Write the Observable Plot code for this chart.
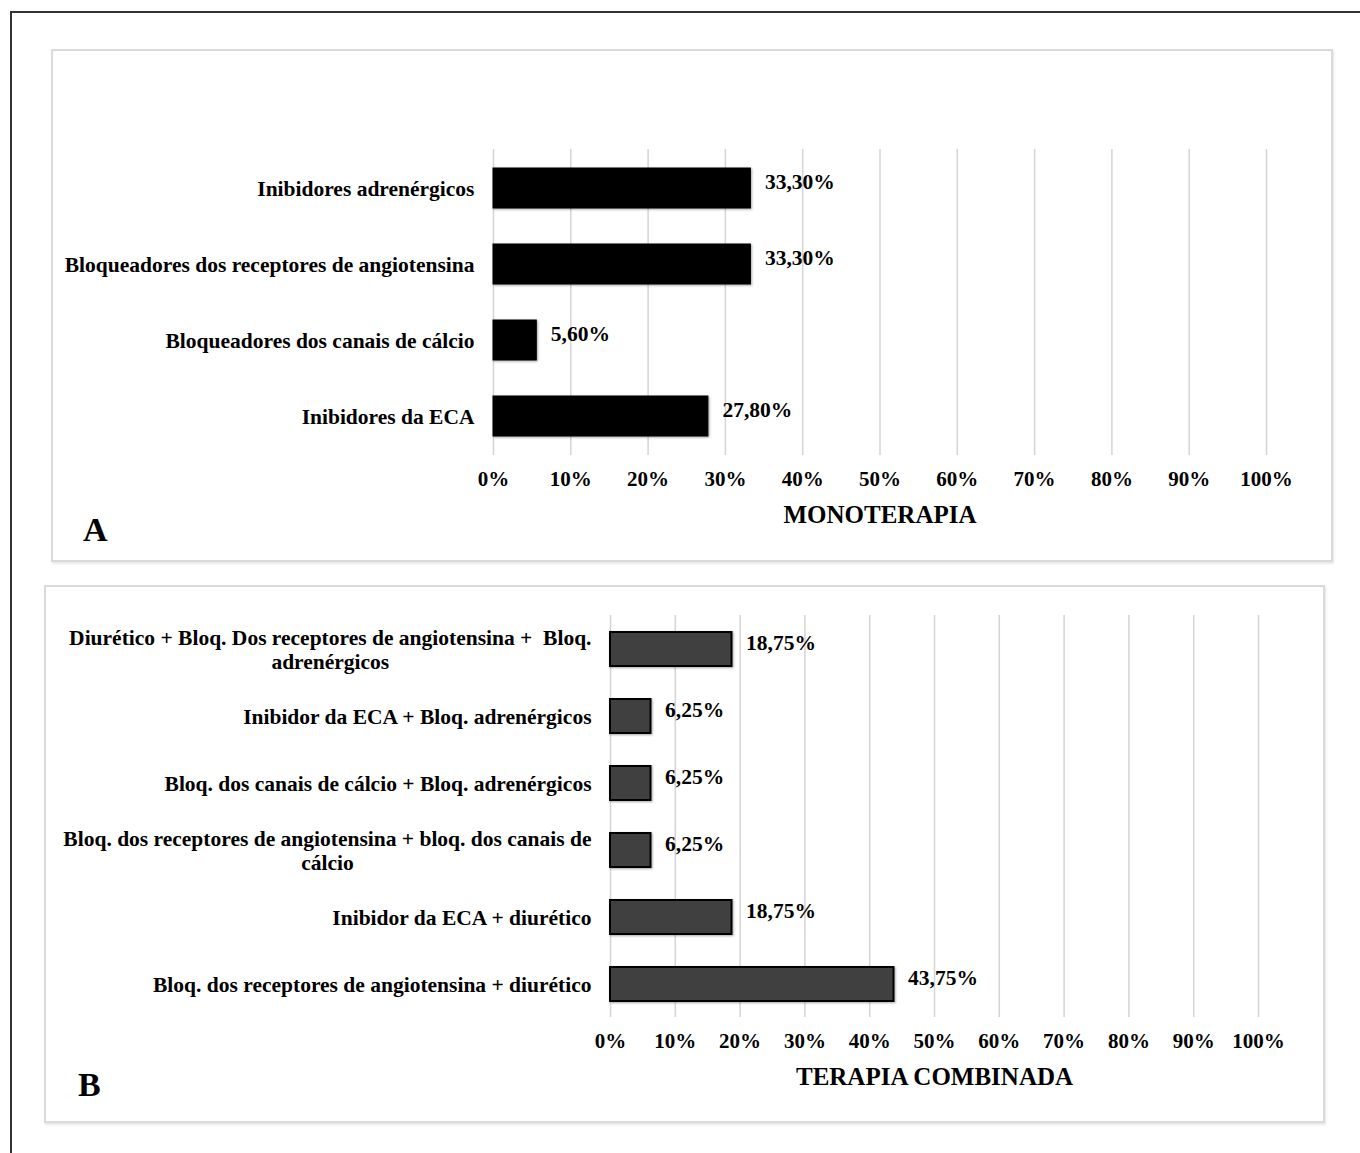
<!DOCTYPE html>
<html><head><meta charset="utf-8">
<script src="https://cdn.jsdelivr.net/npm/d3@7"></script>
<script src="https://cdn.jsdelivr.net/npm/@observablehq/plot@0.6"></script>
<style>
html,body{margin:0;padding:0;background:#fff;}
body{width:1360px;height:1153px;position:relative;overflow:hidden;font-family:"Liberation Serif",serif;}
.frame{position:absolute;left:10px;top:11px;width:1400px;height:1200px;border-left:2px solid #333;border-top:2px solid #333;}
.panel{position:absolute;box-sizing:border-box;border:2px solid #dadada;box-shadow:1px 2px 2px #e8e8e8;}
.chart{position:absolute;}
.letter{position:absolute;font-weight:bold;font-size:34px;color:#000;line-height:normal;}
g[aria-label="bar"] rect{filter:drop-shadow(1px 1px 1px rgba(0,0,0,0.35));}
</style></head><body>
<div class="frame"></div>
<div class="panel" style="left:51px;top:49px;width:1282px;height:513px"></div>
<div class="panel" style="left:44px;top:585px;width:1281px;height:538px"></div>
<div class="chart" id="chartA" style="left:51px;top:49px;width:1282px;height:513px"></div>
<div class="chart" id="chartB" style="left:44px;top:585px;width:1281px;height:538px"></div>
<div class="letter" style="left:83px;top:511px">A</div>
<div class="letter" style="left:78px;top:1066px">B</div>
<script>
// ---- Data ----
const monoCategories = [
  "Inibidores adrenérgicos",
  "Bloqueadores dos receptores de angiotensina",
  "Bloqueadores dos canais de cálcio",
  "Inibidores da ECA"
];
const monoValues = [0.333, 0.333, 0.056, 0.278];
const monoTitle = "MONOTERAPIA";

const comboCategories = [
  "Diurético + Bloq. Dos receptores de angiotensina +  Bloq.\nadrenérgicos",
  "Inibidor da ECA + Bloq. adrenérgicos",
  "Bloq. dos canais de cálcio + Bloq. adrenérgicos",
  "Bloq. dos receptores de angiotensina + bloq. dos canais de\ncálcio",
  "Inibidor da ECA + diurético",
  "Bloq. dos receptores de angiotensina + diurético"
];
const comboValues = [0.1875, 0.0625, 0.0625, 0.0625, 0.1875, 0.4375];
const comboTitle = "TERAPIA COMBINADA";

const xTicks = [0, 0.1, 0.2, 0.3, 0.4, 0.5, 0.6, 0.7, 0.8, 0.9, 1.0];
const xTickLabels = ["0%", "10%", "20%", "30%", "40%", "50%", "60%", "70%", "80%", "90%", "100%"];

const fmtPct = v => (v * 100).toFixed(2).replace(".", ",") + "%";

function makeChart(cats, vals, title, opts) {
  const data = cats.map((c, i) => ({category: c, value: vals[i]}));
  return Plot.plot({
    width: opts.width,
    height: opts.height,
    marginLeft: opts.marginLeft,
    marginRight: opts.marginRight,
    marginTop: opts.marginTop,
    marginBottom: opts.marginBottom,
    style: {fontFamily: "'Liberation Serif', serif", fontSize: "21px", fontWeight: "bold", color: "#000", background: "transparent", overflow: "visible"},
    x: {domain: [0, 1]},
    y: {domain: cats, paddingInner: opts.paddingInner, paddingOuter: opts.paddingInner / 2},
    marks: [
      Plot.gridX(xTicks, {stroke: "#d4d4d4", strokeOpacity: 1, strokeWidth: 1.5}),
      Plot.barX(data, {x: "value", y: "category", fill: opts.fill, stroke: opts.stroke, strokeWidth: opts.strokeWidth}),
      Plot.text(data, {x: "value", y: "category", text: d => fmtPct(d.value), textAnchor: "start", dx: 14, dy: -6, fontSize: 21.5, fontWeight: "bold"}),
      Plot.axisY({tickSize: 0, tickPadding: 19, label: null, lineHeight: 1.1, fontSize: 21.5}),
      Plot.axisX({ticks: xTicks, tickFormat: (d, i) => xTickLabels[i], tickSize: 0, tickPadding: 16, fontSize: 21,
        label: title, labelAnchor: "center", labelArrow: "none", labelOffset: 67})
    ]
  });
}

function finish(svg) {
  svg.querySelectorAll('g[aria-label="y-axis tick label"] text').forEach(t => {
    const spans = t.querySelectorAll("tspan");
    if (spans.length < 2) return;
    const w = Math.max(...Array.from(spans, s => s.getComputedTextLength()));
    t.setAttribute("text-anchor", "middle");
    spans.forEach(s => s.setAttribute("x", -w / 2));
  });
  svg.querySelectorAll('g[aria-label="x-axis label"]').forEach(g => g.setAttribute("font-size", 25));
}

const a = makeChart(monoCategories, monoValues, monoTitle, {
  width: 1282, height: 513, marginLeft: 442, marginRight: 67, marginTop: 100, marginBottom: 107,
  paddingInner: 0.48, fill: "#000", stroke: "#000", strokeWidth: 1
});
document.getElementById("chartA").append(a);
finish(a);

const b = makeChart(comboCategories, comboValues, comboTitle, {
  width: 1281, height: 538, marginLeft: 566, marginRight: 67, marginTop: 30, marginBottom: 106,
  paddingInner: 0.5, fill: "#404040", stroke: "#000", strokeWidth: 2
});
document.getElementById("chartB").append(b);
finish(b);
</script>
</body></html>
